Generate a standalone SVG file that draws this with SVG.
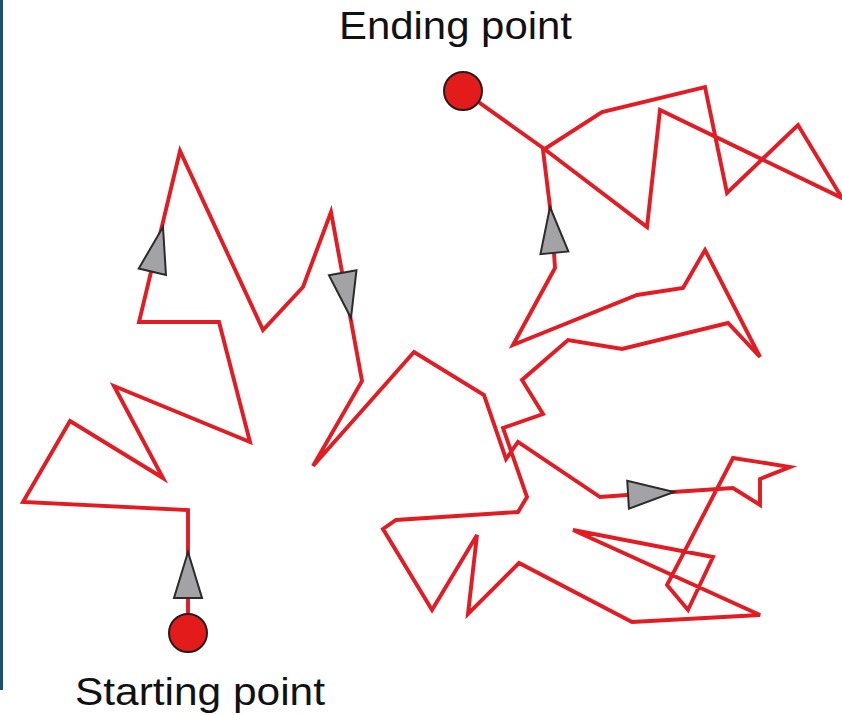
<svg xmlns="http://www.w3.org/2000/svg" xmlns:xlink="http://www.w3.org/1999/xlink" width="842" height="715" viewBox="0 0 842 715">
<style>
.walk{fill:none;stroke:#e31b23;stroke-width:3.9;stroke-linejoin:miter;stroke-linecap:butt}
.arr{fill:#a3a3a5;stroke:#2b2b2b;stroke-width:2;stroke-linejoin:miter}
.pt{fill:#e31b1b;stroke:#2a1a1a;stroke-width:2}
.lbl{font-family:"Liberation Sans",Arial,sans-serif;font-size:38px;fill:#111}
</style>
<defs>
<polygon id="arrow" class="arr" points="0,0 -46,-14 -46,14"/>
</defs>
<rect width="842" height="715" fill="#ffffff"/>
<rect x="0" y="0" width="3" height="690" fill="#1f4f6f"/>
<g id="connectors">
<polyline class="walk" points="188,632 188,510 23,502 70,421 163,478 114,386 250,442 219,322 139,322 180,151 263,330 303,287 331,212 362,381 313,466 414,352 484,395 506,459 518,442 600,497 627,495 673,492 733,488 760,505 760,479 790,467 733,458 667,585 688,610 713,557 573,530 760,615 632,622 519,563 468,614 477,535 432,610 383,529 396,520 518,512 527,497 503,428 543,414 522,380 568,340 622,349 728,323 760,357 705,250 683,288 637,295 513,345 555,268 554,253 550,207 543,150 602,112 705,87 727,193 798,125 842,198 660,110 647,227 543,148 463,91"/>
<use xlink:href="#arrow" transform="translate(188,552) rotate(-90)"/>
<use xlink:href="#arrow" transform="translate(163,227) rotate(-76.6)"/>
<use xlink:href="#arrow" transform="translate(351,318) rotate(79.6)"/>
<use xlink:href="#arrow" transform="translate(674,492) rotate(-3.4)"/>
<use xlink:href="#arrow" transform="translate(550,207) rotate(-95.5)"/>
</g>
<g id="start">
<circle class="pt" cx="188" cy="633" r="19"/>
<text class="lbl" x="75" y="705" textLength="250" lengthAdjust="spacingAndGlyphs">Starting point</text>
</g>
<g id="end">
<circle class="pt" cx="463" cy="91" r="19"/>
<text class="lbl" x="339" y="39" textLength="233" lengthAdjust="spacingAndGlyphs">Ending point</text>
</g>
</svg>
